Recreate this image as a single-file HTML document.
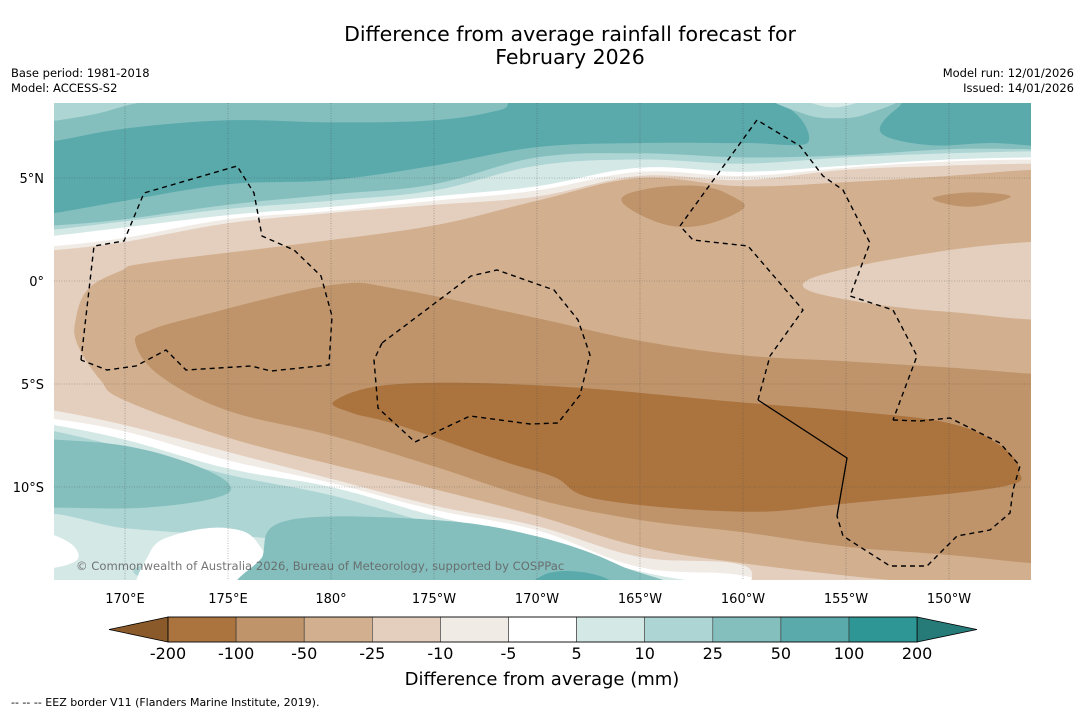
<!DOCTYPE html>
<html><head><meta charset="utf-8">
<style>
html,body{margin:0;padding:0;background:#fff;}
body{width:1085px;height:713px;overflow:hidden;font-family:"DejaVu Sans","Liberation Sans",sans-serif;}
svg text{font-family:"DejaVu Sans","Liberation Sans",sans-serif;}
</style></head>
<body>
<svg id="chart" width="1085" height="713" viewBox="0 0 1085 713" xmlns="http://www.w3.org/2000/svg">
<text x="570" y="41" font-size="20.5" text-anchor="middle" fill="#000">Difference from average rainfall forecast for</text>
<text x="570" y="64" font-size="20.5" text-anchor="middle" fill="#000">February 2026</text>
<text x="11" y="77" font-size="11.5">Base period: 1981-2018</text>
<text x="11" y="92" font-size="11.5">Model: ACCESS-S2</text>
<text x="1074" y="77" font-size="11.5" text-anchor="end">Model run: 12/01/2026</text>
<text x="1074" y="92" font-size="11.5" text-anchor="end">Issued: 14/01/2026</text>
<defs><clipPath id="mapclip"><rect x="54" y="103" width="977" height="477"/></clipPath></defs>
<g id="map" clip-path="url(#mapclip)"></g>
<g id="axes"></g>
<g id="cbar"></g>
<text x="542" y="685" font-size="18" text-anchor="middle">Difference from average (mm)</text>
<text x="11" y="706" font-size="11">--  --  -- EEZ border V11 (Flanders Marine Institute, 2019).</text>
</svg>
<script>
// ---- data ----
const levels = [-200,-100,-50,-25,-10,-5,5,10,25,50,100,200];
const bandColors = ['#ab743f','#bf946b','#d2b08f','#e4cfbe','#f1ebe6','#ffffff','#d4e8e6','#acd5d4','#84bfbe','#5aaaac','#2e9795'];
const lonTicks = [170,175,180,185,190,195,200,205,210];
const lonTickLabels = ['170°E','175°E','180°','175°W','170°W','165°W','160°W','155°W','150°W'];
const latTicks = [5,0,-5,-10];
const latTickLabels = ['5°N','0°','5°S','10°S'];
const northBand5  = [[166,2.2],[166.6,2.2],[170,2.6],[175,3.2],[180,3.6],[185,4.1],[190,4.6],[195,5.5],[200,5.3],[205,5.6],[210,5.9],[214,6.0],[215,6.0],[215,9],[166,9]];
const northBand10 = [[166,2.5],[166.6,2.5],[170,2.9],[175,3.5],[180,3.9],[185,4.4],[190,5.6],[195,5.9],[200,5.7],[205,6.0],[210,6.2],[214,6.3],[215,6.3],[215,9],[166,9]];
const northBand25 = [[166,2.7],[166.6,2.7],[170,3.0],[175,3.7],[180,4.2],[185,4.7],[190,6.0],[195,6.2],[200,6.0],[205,6.1],[210,6.4],[214,6.4],[215,6.4],[215,9],[166,9]];
const northBand50 = [[165.5,6.8],[166.6,6.8],[170,7.4],[175,7.8],[180,7.7],[185,7.8],[188.2,8.3],[190,9],[200.5,9],[203.2,6.8],[200,6.7],[195,6.7],[190,6.5],[185,5.6],[180,4.9],[175,4.7],[170,3.9],[166.6,3.3],[165.5,3.2]];
const northRight50 = [[206.7,7.2],[207.5,8.4],[209,9],[216,9],[216,6.7],[212,6.7],[209,6.6]];
const topLeft10 = [[165.5,9],[171.5,9],[170,8.5],[168,8.0],[165.5,7.8]];
const topMid10 = [[201.5,9],[207.5,9],[206,8.1],[204.5,7.9],[203,8.1]];
const topMid5 = [[202.8,9],[206,9],[205,8.5],[203.8,8.5]];
const southBand5  = [[166,-7.0],[166.6,-7.0],[170,-7.7],[175,-9.1],[180,-10.0],[185,-11.4],[190,-12.6],[195,-14.1],[200,-14.9],[205,-15.5],[216,-15.5],[166,-15.5]];
const southBand10 = [[166,-7.3],[166.6,-7.3],[170,-8.1],[175,-9.4],[180,-10.4],[185,-11.8],[190,-13.0],[195,-14.4],[198,-15.5],[166,-15.5]];
const southA25 = [[165.5,-7.7],[166.6,-7.7],[170,-8.0],[173,-8.8],[175,-9.8],[174.5,-10.5],[171,-11.0],[166.6,-11.0],[165.5,-11.0]];
const southLeft5 = [[165.5,-11.5],[170,-12.0],[174,-12.3],[177,-12.5],[179.5,-13.0],[180,-15.5],[165.5,-15.5]];
const southLeft10 = [[170.4,-14.1],[171.2,-13.7],[172,-14.1],[171.2,-14.5]];
const southWhite1 = [[165.5,-12.2],[167.3,-12.7],[167.6,-13.6],[165.5,-13.9]];
const southWhite2 = [[171,-15.5],[171.2,-13.2],[172.5,-12.3],[175,-12.0],[176.5,-12.8],[177.3,-15.5]];
const southB25 = [[176.7,-13.3],[178,-11.6],[185,-11.6],[190,-12.4],[194,-13.8],[196.5,-15.5],[177,-15.5]];
const southB50 = [[189.5,-15.5],[190.5,-14.2],[193,-14.3],[194.5,-15.5]];
const dry10 = [[165.5,1.7],[166.6,1.7],[170,2.1],[175,3.0],[180,3.4],[185,3.9],[190,4.4],[195,5.3],[200,5.1],[205,5.5],[210,5.8],[214,5.9],[216,5.9],[216,-15.5],[205,-15.5],[200,-14.3],[195,-13.9],[190,-12.1],[185,-11.1],[180,-9.8],[175,-8.7],[170,-7.3],[166.6,-6.7],[165.5,-6.6]];
const dry25 = [[165.5,1.5],[166.6,1.5],[170,1.9],[175,2.8],[180,3.3],[185,3.7],[190,4.1],[195,5.1],[200,4.9],[205,5.4],[210,5.6],[214,5.7],[216,5.7],[216,-15.5],[202,-15.5],[200,-13.8],[195,-13.4],[190,-11.9],[185,-10.9],[180,-9.6],[175,-8.3],[170,-7.0],[166.6,-6.3],[165.5,-6.2]];
const dry50 = [[167.6,-1.9],[168.2,-0.4],[169.8,0.5],[171.2,0.9],[178.5,1.8],[185,2.7],[190,3.9],[195,5.0],[200,4.6],[205,4.8],[210,5.1],[214,5.4],[216,5.4],[216,-15.5],[210,-14.8],[205,-14.3],[200,-13.7],[195,-12.9],[190,-11.4],[185,-10.1],[180,-8.9],[175,-7.6],[170,-5.8],[168.8,-4.8],[167.7,-3.1]];
const dryTongue25 = [[202.9,-0.2],[205,0.6],[210,1.5],[214,1.9],[216,1.9],[216,-1.6],[210,-1.5],[205,-0.9]];
const dry100 = [[170.5,-3.0],[171.2,-2.4],[173.6,-1.7],[180,-0.2],[183.3,-0.4],[190,-1.8],[195,-2.9],[200,-3.6],[205,-3.9],[210,-4.2],[214,-4.5],[216,-4.6],[216,-13.8],[214,-13.7],[210,-13.3],[205,-12.9],[200,-12.2],[195,-11.6],[190,-10.6],[185,-9.0],[180,-7.5],[175,-6.3],[171.7,-4.6]];
const dryNorth100 = [[194.1,3.9],[195.5,4.5],[198,4.6],[199.5,4.1],[200,3.5],[198,2.7],[196,2.8]];
const dryRight100 = [[209.2,4.0],[211,4.3],[213,4.1],[211,3.6]];
const dry200 = [[180.2,-5.8],[183.3,-5.0],[190.8,-5.1],[200,-5.9],[205,-6.3],[210,-6.9],[212.5,-8.0],[213.4,-9.2],[212.5,-10.0],[205,-10.8],[200,-11.2],[193,-10.6],[190.8,-9.5],[188.2,-8.7],[183.3,-7.0],[181,-6.4]];
const regionOrder = [
 [6,northBand5],[7,northBand10],[8,northBand25],[9,northBand50],[9,northRight50],[7,topLeft10],[7,topMid10],[6,topMid5],
 [6,southBand5],[7,southBand10],[8,southA25],[6,southLeft5],[7,southLeft10],[5,southWhite1],[5,southWhite2],[8,southB25],[9,southB50],
 [4,dry10],[3,dry25],[2,dry50],[3,dryTongue25],[1,dry100],[1,dryNorth100],[1,dryRight100],[0,dry200]
];
// ---- projection ----
const X0=125, DX=20.6, Y0=281;
function px(lon){return X0+(lon-170)*DX;}
function py(lat){return Y0-lat*DX;}
const NS='http://www.w3.org/2000/svg';
function mk(tag,attrs,parent){const e=document.createElementNS(NS,tag);for(const k in attrs)e.setAttribute(k,attrs[k]);parent.appendChild(e);return e;}
function smoothClosed(pts){
  const p=pts.map(q=>[px(q[0]),py(q[1])]);const n=p.length;let d='M'+p[0][0].toFixed(1)+','+p[0][1].toFixed(1);
  for(let i=0;i<n;i++){const p0=p[(i-1+n)%n],p1=p[i],p2=p[(i+1)%n],p3=p[(i+2)%n];const t=0.18;
    const c1=[p1[0]+(p2[0]-p0[0])*t,p1[1]+(p2[1]-p0[1])*t],c2=[p2[0]-(p3[0]-p1[0])*t,p2[1]-(p3[1]-p1[1])*t];
    d+='C'+c1.map(v=>v.toFixed(1)).join(',')+' '+c2.map(v=>v.toFixed(1)).join(',')+' '+p2[0].toFixed(1)+','+p2[1].toFixed(1);}
  return d+'Z';}
const map=document.getElementById('map');
const bg=mk('rect',{x:54,y:103,width:977,height:477,fill:'#ffffff'},map);


regionOrder.forEach((r,i)=>{
  const el=mk('path',{d:smoothClosed(r[1]),fill:bandColors[r[0]]},map);
  
  
});
// EEZ borders
const eez=[
 '81,360 94,246 124,241 144,193 237,166 254,193 262,236 294,250 321,276 332,316 329,365 271,371 251,366 186,370 166,350 136,366 107,370 81,360',
 '382,343 471,276 497,270 554,290 578,320 590,355 580,395 558,423 530,424 470,416 415,442 378,408 374,360 382,343',
 '680,226 757,120 800,146 823,176 843,190 870,243 850,296 893,310 917,356 893,420',
 '893,420 920,421 950,418 1000,443 1020,466 1013,490 1010,513 990,530 957,536 927,566 890,566 843,536 837,516',
 '758,400 770,356 803,310 748,246 693,240 680,226'
];
eez.forEach((s,i)=>{const el=mk('polyline',{points:s,fill:'none',stroke:'#000','stroke-width':1.4,'stroke-dasharray':'5,4'},map);
 
 });
const solid=mk('polyline',{points:'758,400 847,458 837,516',fill:'none',stroke:'#000','stroke-width':1.3},map);


// graticule
const ax=document.getElementById('axes');
lonTicks.forEach((lon,i)=>{
  const l=mk('line',{x1:px(lon),x2:px(lon),y1:103,y2:580,stroke:'#444','stroke-width':0.6,'stroke-dasharray':'1,1.5','stroke-opacity':0.6},map);
  
  
  const t=mk('text',{x:px(lon),y:603,'font-size':13,'text-anchor':'middle'},ax);t.textContent=lonTickLabels[i];
  
  
});
latTicks.forEach((lat,i)=>{
  const l=mk('line',{x1:54,x2:1031,y1:py(lat),y2:py(lat),stroke:'#444','stroke-width':0.6,'stroke-dasharray':'1,1.5','stroke-opacity':0.6},map);
  
  
  const t=mk('text',{x:44,y:py(lat)+5,'font-size':13,'text-anchor':'end'},ax);t.textContent=latTickLabels[i];
  
  
});
const wm=mk('text',{x:76,y:570,'font-size':11.6,fill:'#666','fill-opacity':0.9},map);
wm.textContent='© Commonwealth of Australia 2026, Bureau of Meteorology, supported by COSPPac';


// colorbar
const cb=document.getElementById('cbar');
const cbX0=168, cbW=68.1, cbY=617, cbH=25;
const lt=mk('polygon',{points:`${cbX0},${cbY} 109,${cbY+cbH/2} ${cbX0},${cbY+cbH}`,fill:'#8b5a2b',stroke:'#000','stroke-width':0.8},cb);


const rEnd=cbX0+cbW*11;
const rt=mk('polygon',{points:`${rEnd},${cbY} 977,${cbY+cbH/2} ${rEnd},${cbY+cbH}`,fill:'#267a78',stroke:'#000','stroke-width':0.8},cb);


bandColors.forEach((c,i)=>{
  const r=mk('rect',{x:cbX0+i*cbW,y:cbY,width:cbW,height:cbH,fill:c,stroke:'#333','stroke-width':0.6},cb);
  
  
});
levels.forEach((v,i)=>{
  const t=mk('text',{x:cbX0+i*cbW,y:659,'font-size':16,'text-anchor':'middle'},cb);t.textContent=String(v);
  
  
});
mk('rect',{x:cbX0,y:cbY,width:cbW*11,height:cbH,fill:'none',stroke:'#000','stroke-width':0.8},cb);
</script>
</body></html>
